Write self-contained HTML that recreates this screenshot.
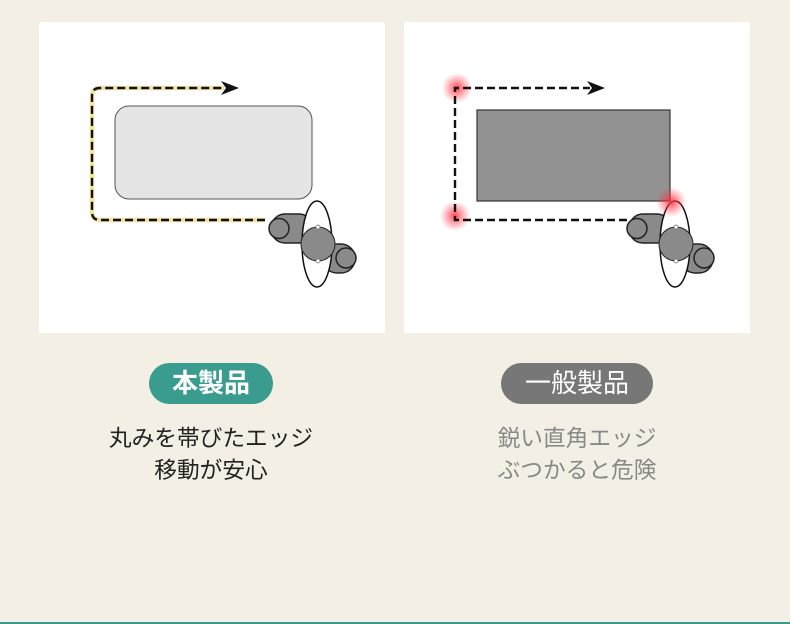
<!DOCTYPE html>
<html><head><meta charset="utf-8"><style>
html,body{margin:0;padding:0}
body{width:790px;height:624px;background:#f4efe5;position:relative;overflow:hidden;font-family:"Liberation Sans","Noto Sans CJK JP",sans-serif}
.pill{position:absolute;top:363px;height:41px;border-radius:21px;color:#fff;font-size:26px;line-height:41px;text-align:center}
.t{position:absolute;width:340px;text-align:center;font-size:22.7px;line-height:32px}
</style></head><body>
<svg width="790" height="624" style="position:absolute;left:0;top:0">
<defs>
<radialGradient id="g"><stop offset="0" stop-color="#ff3040" stop-opacity="0.9"/><stop offset="0.4" stop-color="#ff3040" stop-opacity="0.5"/><stop offset="1" stop-color="#ff3040" stop-opacity="0"/></radialGradient>
<g id="p">
<rect x="-46" y="-30" width="42" height="29" rx="14" fill="#8a8a8a" stroke="#222" stroke-width="1.5"/>
<circle cx="-38" cy="-15.5" r="10" fill="#8a8a8a" stroke="#222" stroke-width="1.5"/>
<rect x="6" y="0" width="32" height="29" rx="14" fill="#8a8a8a" stroke="#222" stroke-width="1.5"/>
<circle cx="29" cy="14" r="10" fill="#8a8a8a" stroke="#222" stroke-width="1.5"/>
<ellipse cx="0" cy="0" rx="15" ry="43" fill="#fff" stroke="#111" stroke-width="1.5"/>
<circle cx="1" cy="0" r="17" fill="#8a8a8a" stroke="#222" stroke-width="1"/>
<circle cx="1" cy="-17" r="2" fill="#fff" stroke="#666" stroke-width="0.7"/>
<circle cx="1" cy="17" r="2" fill="#fff" stroke="#666" stroke-width="0.7"/>
</g>
</defs>
<rect x="39" y="22" width="346" height="311" fill="#fff"/>
<rect x="404" y="22" width="346" height="311" fill="#fff"/>
<rect x="115" y="106" width="197" height="93" rx="14" fill="#e5e5e5" stroke="#555" stroke-width="1"/>
<path d="M265 220 H100 Q92 220 92 212 V96 Q92 88 100 88 H224" fill="none" stroke="#f3e2a0" stroke-width="4.5"/>
<path d="M265 220 H100 Q92 220 92 212 V96 Q92 88 100 88 H224" fill="none" stroke="#111" stroke-width="2.4" stroke-dasharray="8,4"/>
<path d="M221 81 L239 88 L221 95 L226 88 Z" fill="#111"/>
<use href="#p" x="317" y="244"/>
<circle cx="457" cy="88" r="15" fill="url(#g)"/>
<circle cx="455" cy="216" r="15" fill="url(#g)"/>
<rect x="477" y="110" width="193" height="91" fill="#929292" stroke="#333" stroke-width="1.2"/>
<path d="M627 220 H455 V88 H590" fill="none" stroke="#111" stroke-width="2.4" stroke-dasharray="8,4"/>
<path d="M587 81 L605 88 L587 95 L592 88 Z" fill="#111"/>
<use href="#p" x="675" y="244"/>
<circle cx="671" cy="202" r="15" fill="url(#g)"/>
<rect x="0" y="622" width="790" height="2" fill="#3a9c8f"/>
</svg>
<div class="pill" style="left:149px;width:124px;background:#3a9c8f;font-weight:bold">本製品</div>
<div class="pill" style="left:501px;width:152px;background:#777">一般製品</div>
<div class="t" style="left:41px;top:422px;color:#222">丸みを帯びたエッジ<br>移動が安心</div>
<div class="t" style="left:407px;top:422px;color:#888">鋭い直角エッジ<br>ぶつかると危険</div>
</body></html>
